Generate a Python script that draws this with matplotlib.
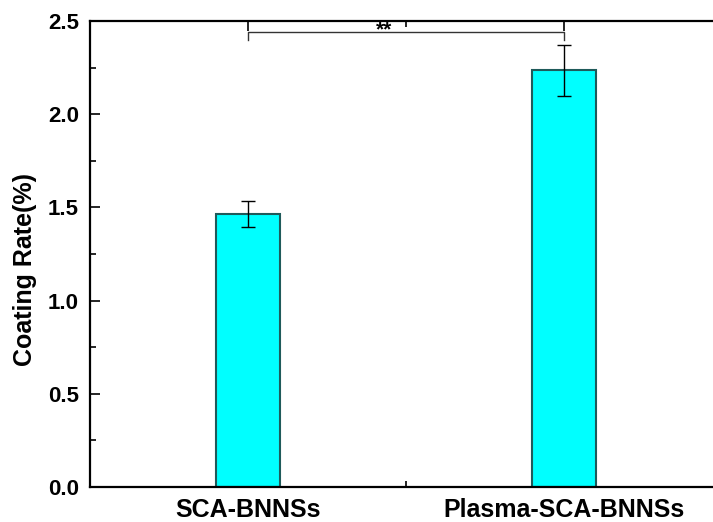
import matplotlib.pyplot as plt
from matplotlib.ticker import MultipleLocator

plt.rcParams['font.family'] = ['Liberation Sans', 'DejaVu Sans']
plt.rcParams['font.weight'] = 'bold'

# data
samples = ["SCA-BNNSs", "Plasma-SCA-BNNSs"]
coating_rate = [1.465, 2.235]
coating_err = [0.07, 0.137]

fig = plt.figure(figsize=(7.13, 5.22), dpi=100)
ax = fig.add_axes([0.1262, 0.067, 0.8864, 0.8927])

xpos = [1, 2]
ax.bar(xpos, coating_rate, width=0.2, color="#00ffff", edgecolor="#1f5a5a",
       linewidth=1.5, zorder=2)
ax.errorbar(xpos, coating_rate, yerr=coating_err, fmt="none", ecolor="black",
            elinewidth=1, capsize=5, capthick=1, zorder=3)

# significance bracket
y_br = 2.44
ax.plot([1, 1, 2, 2], [2.40, y_br, y_br, 2.40], color="#333333", lw=1)
ax.text(1.43, y_br - 0.04, "**", ha="center", va="bottom", fontsize=15,
        fontweight="bold")

ax.set_xlim(0.5, 2.5)
ax.set_ylim(0, 2.5)
ax.set_xticks(xpos)
ax.set_xticklabels(samples)
ax.xaxis.set_minor_locator(MultipleLocator(0.5))
ax.yaxis.set_major_locator(MultipleLocator(0.5))
ax.yaxis.set_minor_locator(MultipleLocator(0.25))
ax.tick_params(which="both", direction="in", top=True, right=False,
               width=1.2, labelsize=16)
ax.tick_params(which="major", length=7)
ax.tick_params(which="minor", length=4)
ax.tick_params(axis="y", pad=8)
ax.tick_params(axis="x", pad=8, labelsize=18)
for s in ax.spines.values():
    s.set_linewidth(1.6)

ax.set_ylabel("Coating Rate(%)", fontsize=18, fontweight="bold")
ax.yaxis.set_label_coords(-0.084, 0.466)

fig.savefig("out.png", dpi=100)
